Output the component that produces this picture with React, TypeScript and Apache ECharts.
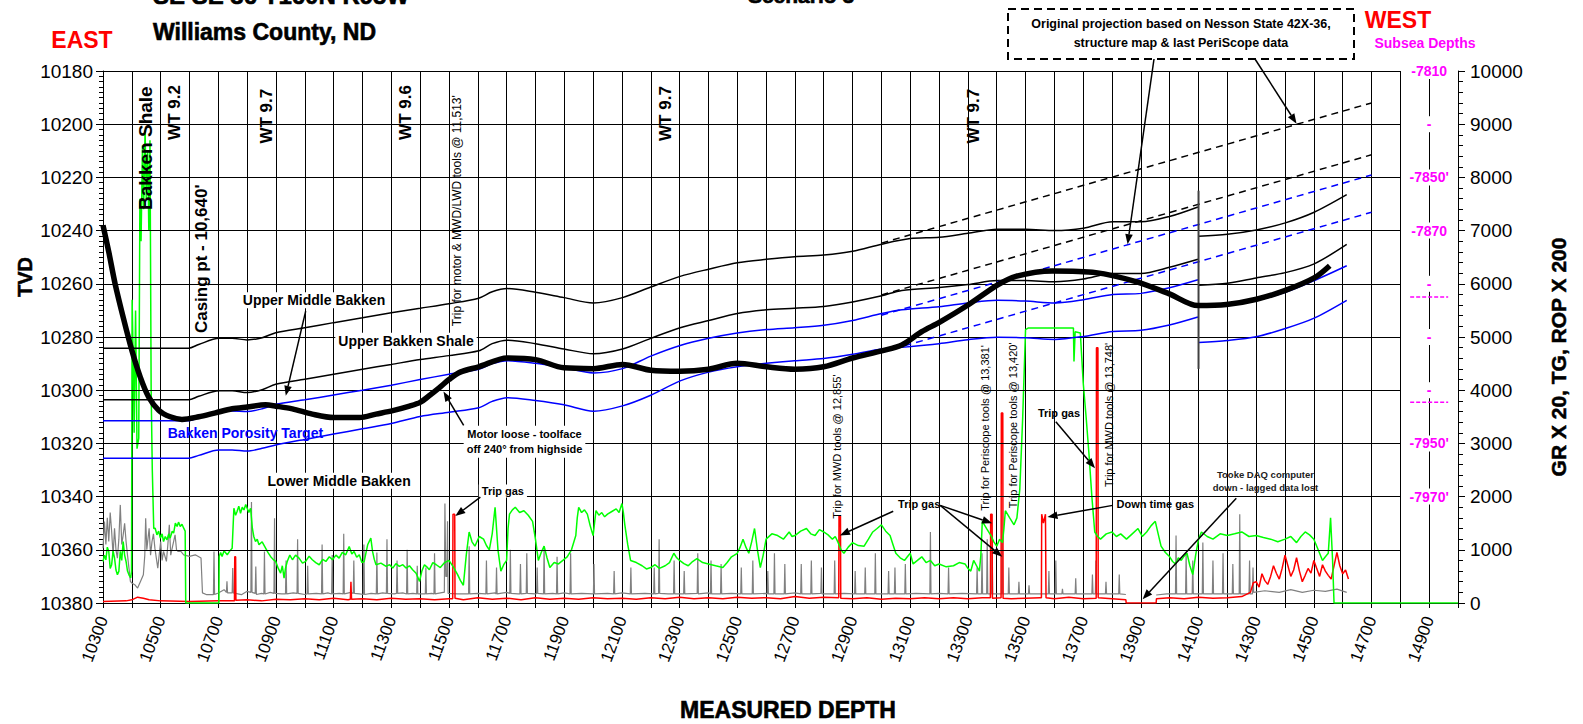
import React, { useEffect, useRef } from "react";
import * as echarts from "echarts";

// ---------- axis ticks / labels ----------
const MD_MIN = 10300;
const MD_MAX = 15000;
const TVD_MIN = 10180;
const TVD_MAX = 10380;
const TVD_TICKS = [10180, 10200, 10220, 10240, 10260, 10280, 10300, 10320, 10340, 10360, 10380];
const X_LABELS = [10300, 10500, 10700, 10900, 11100, 11300, 11500, 11700, 11900, 12100, 12300, 12500, 12700, 12900, 13100, 13300, 13500, 13700, 13900, 14100, 14300, 14500, 14700, 14900];
const SUBSEA_TVD = [10180, 10200, 10220, 10240, 10260, 10280, 10300, 10320, 10340];
const SUBSEA_LABELS = ["-7810", "-", "-7850'", "-7870", "-", "-", "-", "-7950'", "-7970'"];
const SUBSEA_HIDDEN_TVD = [10265, 10304.5];

// ---------- formation lines (TVD) ----------
const UBS_TOP_A = [[10300,10284.2],[10597,10284.2],[10632,10282.8],[10702,10280.5],[10748,10280.5],[10800,10281.1],[10852,10280.3],[10899,10278.4],[11000,10276.5],[11100,10274.6],[11200,10272.8],[11300,10270.9],[11400,10269.2],[11500,10267.5],[11603,10265.4],[11650,10263],[11702,10261.8],[11800,10263.2],[11899,10265.2],[12001,10267.2],[12102,10265.2],[12200,10261.2],[12302,10257.2],[12401,10254.5],[12500,10252.1],[12601,10250.8],[12699,10249.8],[12800,10249.2],[12900,10247.8],[13001,10245.1],[13100,10243],[13201,10242.5],[13300,10241],[13402,10239.5],[13500,10239.5],[13602,10240],[13701,10239.1],[13802,10236.7],[13900,10236.7],[13999,10234.7],[14098,10231.1]];
const UBS_TOP_B = [[14100,10242.1],[14200,10241.4],[14300,10239.8],[14401,10237.1],[14501,10233.1],[14614,10226.5]];
const UMB_TOP_A = [[10300,10303.6],[10597,10303.6],[10632,10302.3],[10702,10300.2],[10748,10300.2],[10800,10300.9],[10852,10299.8],[10899,10297.8],[11000,10295.9],[11100,10294],[11200,10292.1],[11300,10290.3],[11400,10288.5],[11500,10287],[11603,10285.2],[11650,10282.5],[11702,10281.2],[11800,10282.5],[11899,10284.5],[12001,10286.3],[12102,10284.5],[12200,10280.5],[12302,10276.5],[12401,10273.8],[12500,10271.2],[12601,10269.8],[12699,10269.2],[12800,10268.5],[12900,10266.8],[13001,10264.5],[13071,10262.5],[13201,10261.4],[13300,10260.3],[13402,10258.8],[13500,10258.8],[13602,10259.2],[13701,10258.2],[13802,10256.1],[13900,10256.1],[13999,10253.8],[14098,10250.8]];
const UMB_TOP_B = [[14100,10260.5],[14200,10259.8],[14300,10257.8],[14401,10255.8],[14501,10252.5],[14614,10245.2]];
const TARGET_TOP_A = [[10300,10311.5],[10597,10311.5],[10632,10310.3],[10702,10307.8],[10748,10307.8],[10800,10308],[10852,10307],[10899,10305.3],[11000,10303.6],[11100,10301.8],[11200,10300],[11300,10298.1],[11400,10296],[11500,10294],[11603,10292.1],[11650,10290],[11702,10288.9],[11800,10289.9],[11899,10291.6],[12001,10293.5],[12102,10291.9],[12200,10287.2],[12302,10283.2],[12401,10280.5],[12500,10278.5],[12601,10277.2],[12699,10276.5],[12800,10275.6],[12900,10273.8],[13001,10271.2],[13071,10269.8],[13200,10268.6],[13300,10267.2],[13402,10266.2],[13500,10266.5],[13602,10267.2],[13701,10266],[13802,10264],[13900,10263.6],[13999,10261.5],[14098,10258.5]];
const TARGET_TOP_B = [[14100,10268.8],[14200,10268.1],[14300,10266.2],[14401,10263.2],[14501,10258.8],[14614,10253.2]];
const TARGET_BASE_A = [[10300,10325.6],[10597,10325.6],[10632,10324.5],[10702,10322.5],[10748,10322.5],[10800,10322.9],[10852,10321.8],[10899,10320.6],[11000,10318.5],[11100,10316.5],[11200,10314.5],[11300,10312.5],[11400,10309.9],[11500,10308.3],[11603,10306.6],[11650,10304.2],[11702,10302.8],[11800,10303.9],[11899,10305.5],[12001,10307.9],[12102,10305.9],[12200,10301.9],[12302,10296.5],[12401,10293.2],[12500,10291.2],[12601,10289.9],[12699,10288.9],[12800,10288.1],[12900,10286.5],[13001,10284.5],[13071,10283.9],[13200,10282.5],[13300,10281],[13402,10280.1],[13500,10280.3],[13602,10280.9],[13701,10279.8],[13802,10277.9],[13900,10277.5],[13999,10275.5],[14098,10272.5]];
const TARGET_BASE_B = [[14100,10282.1],[14200,10281.3],[14300,10279.9],[14401,10276.8],[14501,10272.9],[14614,10266.2]];

// original projections (dashed)
const PROJ_UBS = [[13000,10244.7],[14700,10192]];
const PROJ_UMB = [[13000,10264.2],[14700,10211.5]];
const PROJ_TOP = [[13000,10271.8],[14700,10219.1]];
const PROJ_BASE = [[13000,10285.8],[14700,10233.1]];
const FAULT = [[14100,10225],[14100,10292]];

// well bore
const WELLBORE = [[10300,10238],[10320,10248],[10342,10260],[10371,10273],[10400,10285],[10429,10295],[10458,10302.5],[10493,10307.5],[10533,10310],[10574,10311],[10632,10310],[10690,10308.5],[10748,10307],[10800,10306.3],[10864,10305.5],[10900,10306],[10957,10307],[11026,10309],[11100,10310.3],[11190,10310.3],[11247,10309],[11305,10307.7],[11363,10306],[11400,10304.6],[11430,10302.2],[11467,10299],[11500,10296],[11539,10293.2],[11603,10291.2],[11702,10287.9],[11800,10288.5],[11899,10291.6],[12001,10291.9],[12102,10290.3],[12200,10292.5],[12302,10292.9],[12401,10292.1],[12500,10289.9],[12601,10291.2],[12699,10292.1],[12800,10291.2],[12900,10287.9],[13001,10285.2],[13071,10283],[13140,10278],[13201,10274.5],[13303,10267.8],[13402,10260.5],[13466,10257.2],[13593,10255.2],[13744,10255.8],[13883,10259.2],[13999,10263.8],[14098,10268.2],[14197,10267.8],[14301,10265.8],[14401,10262.5],[14501,10257.8],[14555,10253.2]];

// ---------- logs (right axis) ----------
const GR_X20 = [[10300,780],[10305,900],[10310,810],[10315,1050],[10320,970],[10325,650],[10330,720],[10335,980],[10340,845],[10345,620],[10350,530],[10355,595],[10360,970],[10365,800],[10370,1155],[10375,900],[10380,780],[10385,600],[10390,530],[10396,470],[10399,600],[10401,5700],[10405,4500],[10408,3200],[10413,5500],[10418,2900],[10424,3100],[10428,7600],[10432,6800],[10437,8600],[10441,7400],[10446,8900],[10450,7600],[10455,8500],[10459,7000],[10463,8700],[10467,4000],[10471,2500],[10476,1400],[10481,1406],[10487,1281],[10493,1350],[10499,1219],[10505,1300],[10510,1156],[10516,1250],[10522,1188],[10528,1300],[10533,1219],[10540,1350],[10545,1313],[10551,1500],[10557,1438],[10562,1520],[10568,1438],[10574,1480],[10580,1406],[10585,1350],[10587,0],[10702,0],[10703,875],[10708,950],[10713,875],[10720,980],[10731,906],[10740,980],[10748,1031],[10754,1781],[10760,1650],[10765,1719],[10771,1820],[10777,1688],[10783,1800],[10789,1750],[10795,1850],[10800,1781],[10806,1700],[10812,1781],[10818,1406],[10823,1250],[10829,1156],[10835,1200],[10841,1094],[10852,1150],[10864,1031],[10872,950],[10881,875],[10890,820],[10899,781],[10908,650],[10916,563],[10922,700],[10928,469],[10933,650],[10939,781],[10948,900],[10957,813],[10968,900],[10980,844],[10992,750],[11003,781],[11015,880],[11026,813],[11038,760],[11050,719],[11062,820],[11073,781],[11085,870],[11096,813],[11108,900],[11119,844],[11130,950],[11142,906],[11154,1063],[11163,920],[11171,969],[11180,860],[11189,906],[11198,760],[11206,781],[11218,1094],[11229,1219],[11235,969],[11241,820],[11247,719],[11264,750],[11282,688],[11294,720],[11305,656],[11316,740],[11328,688],[11340,720],[11351,656],[11363,700],[11374,625],[11386,560],[11398,406],[11406,600],[11415,719],[11423,680],[11432,625],[11444,760],[11456,719],[11470,667],[11485,760],[11500,800],[11515,680],[11530,534],[11540,420],[11550,334],[11560,900],[11570,1335],[11580,1150],[11590,1068],[11605,1250],[11620,1200],[11630,1080],[11640,1000],[11650,1300],[11660,1800],[11670,1000],[11680,600],[11690,720],[11700,800],[11705,1400],[11710,1670],[11720,1750],[11730,1800],[11745,1700],[11760,1735],[11775,1650],[11790,1535],[11800,1200],[11810,800],[11820,950],[11830,1068],[11840,850],[11850,667],[11865,760],[11880,734],[11895,800],[11910,868],[11925,1000],[11940,1268],[11945,1600],[11950,1800],[11960,1700],[11970,1750],[11980,1670],[11990,1450],[12000,1268],[12005,1500],[12010,1735],[12020,1650],[12030,1700],[12040,1620],[12050,1670],[12065,1720],[12080,1770],[12090,1700],[12100,1870],[12105,1700],[12110,1470],[12120,1100],[12130,800],[12150,760],[12170,700],[12185,640],[12200,667],[12215,720],[12230,650],[12250,700],[12265,760],[12280,935],[12290,850],[12300,800],[12315,740],[12330,700],[12345,780],[12360,835],[12380,760],[12400,734],[12425,700],[12450,667],[12465,760],[12480,868],[12490,900],[12500,935],[12510,1050],[12520,1200],[12530,1050],[12540,935],[12550,1150],[12560,1400],[12570,1000],[12580,667],[12590,900],[12600,1200],[12620,1300],[12640,1268],[12660,1200],[12680,1335],[12690,1250],[12700,1268],[12720,1350],[12740,1400],[12755,1300],[12770,1268],[12785,1380],[12800,1335],[12815,1280],[12830,1200],[12840,1250],[12850,1135],[12860,1000],[12870,935],[12885,1050],[12900,1135],[12920,1080],[12940,1068],[12955,1200],[12970,1335],[12985,1400],[13000,1470],[13015,1350],[13030,1268],[13040,1100],[13050,935],[13065,850],[13080,800],[13090,868],[13100,935],[13110,734],[13125,800],[13140,868],[13155,760],[13170,800],[13185,700],[13200,734],[13225,680],[13250,700],[13270,760],[13290,734],[13300,650],[13310,600],[13320,800],[13330,700],[13340,600],[13345,900],[13350,1535],[13365,1400],[13380,1268],[13390,1150],[13400,1068],[13410,1200],[13420,1135],[13425,1400],[13430,1735],[13445,1600],[13460,1470],[13470,1600],[13480,2136],[13490,3470],[13500,5140],[13510,5170],[13666,5170],[13668,4540],[13672,5100],[13690,5074],[13700,4140],[13710,3500],[13720,2800],[13730,2000],[13740,1335],[13750,1250],[13760,1200],[13780,1300],[13800,1335],[13815,1250],[13830,1300],[13850,1200],[13870,1300],[13890,1400],[13905,1250],[13920,1335],[13935,1450],[13950,1535],[13960,1300],[13970,1068],[13985,950],[14000,868],[14010,780],[14020,734],[14030,850],[14040,800],[14050,880],[14060,935],[14070,700],[14080,534],[14090,900],[14100,1200],[14110,1335],[14130,1250],[14150,1200],[14175,1300],[14200,1268],[14225,1300],[14250,1335],[14275,1250],[14300,1268],[14325,1230],[14350,1200],[14375,1150],[14400,1200],[14420,1250],[14440,1135],[14455,1250],[14470,1335],[14485,1280],[14500,1200],[14515,1000],[14530,800],[14540,870],[14550,935],[14558,1600],[14565,800],[14570,0],[15000,0]];

const TG = [[10300,30],[10380,40],[10400,60],[10420,110],[10440,90],[10460,60],[10500,40],[10600,30],[10700,40],[10756,40],[10757,870],[10760,870],[10761,50],[10800,60],[10850,40],[10900,70],[10950,60],[11000,80],[11050,60],[11100,90],[11150,60],[11158,70],[11160,400],[11162,70],[11200,80],[11250,60],[11300,90],[11350,70],[11400,80],[11450,60],[11500,80],[11513,80],[11514,1670],[11520,1670],[11521,90],[11550,60],[11600,100],[11650,70],[11700,90],[11750,60],[11800,100],[11850,70],[11900,90],[11950,70],[12000,100],[12050,80],[12100,90],[12150,70],[12200,100],[12250,80],[12300,110],[12350,80],[12400,100],[12450,80],[12500,110],[12550,90],[12600,100],[12650,80],[12700,120],[12750,90],[12800,110],[12852,100],[12853,1640],[12858,1640],[12859,90],[12900,80],[12950,100],[13000,70],[13050,90],[13100,80],[13150,100],[13200,80],[13250,100],[13300,80],[13350,100],[13378,100],[13379,1670],[13384,1670],[13385,90],[13415,100],[13416,3570],[13421,3570],[13422,90],[13450,80],[13500,90],[13550,100],[13555,100],[13556,1670],[13562,1500],[13569,1670],[13571,100],[13600,80],[13650,110],[13700,80],[13745,90],[13746,4800],[13751,4800],[13752,100],[13800,80],[13848,60],[13849,0],[13953,0],[13954,80],[14000,100],[14050,80],[14100,110],[14150,90],[14200,100],[14250,120],[14280,200],[14290,380],[14300,400],[14310,300],[14320,550],[14330,420],[14340,350],[14350,500],[14360,700],[14370,560],[14380,450],[14390,650],[14400,900],[14410,700],[14420,500],[14430,620],[14440,850],[14450,600],[14460,400],[14470,520],[14480,650],[14490,560],[14500,800],[14510,650],[14520,500],[14530,720],[14540,600],[14550,520],[14560,450],[14570,700],[14580,950],[14590,700],[14600,550],[14610,620],[14620,450]];

const ROP_X200 = [[10300,1030],[10305,1530],[10310,1100],[10315,1600],[10320,1156],[10325,1700],[10330,1344],[10335,900],[10340,1406],[10345,1000],[10350,844],[10355,1200],[10360,1844],[10365,1100],[10370,1281],[10375,1500],[10380,1156],[10385,900],[10390,656],[10395,406],[10400,375],[10410,344],[10420,281],[10430,406],[10440,531],[10445,900],[10448,1594],[10452,1000],[10455,1156],[10460,1406],[10465,900],[10470,1156],[10475,1300],[10480,1031],[10490,656],[10500,1156],[10505,800],[10510,969],[10520,781],[10525,1100],[10530,1469],[10535,900],[10540,1031],[10550,1281],[10555,1000],[10560,969],[10570,969],[10580,906],[10600,875],[10620,906],[10640,844],[10645,190],[10660,156],[10683,156],[10685,969],[10687,160],[10700,188],[10720,250],[10728,200],[10730,406],[10732,190],[10748,190],[10750,656],[10752,190],[10780,156],[10800,219],[10813,200],[10815,1900],[10817,200],[10828,180],[10830,688],[10832,160],[10850,180],[10858,170],[10860,969],[10862,170],[10880,200],[10893,180],[10895,1594],[10897,180],[10920,170],[10933,170],[10935,800],[10937,170],[10960,190],[10973,180],[10975,1200],[10977,180],[11000,160],[11008,170],[11010,700],[11012,170],[11040,180],[11058,170],[11060,1100],[11062,170],[11080,190],[11093,170],[11095,900],[11097,170],[11120,180],[11133,170],[11135,1300],[11137,170],[11160,200],[11168,180],[11170,800],[11172,180],[11190,170],[11203,160],[11205,1100],[11207,160],[11230,180],[11248,170],[11250,950],[11252,170],[11270,190],[11283,180],[11285,1200],[11287,180],[11310,170],[11318,180],[11320,800],[11322,180],[11340,190],[11353,170],[11355,1000],[11357,170],[11375,180],[11388,170],[11390,700],[11392,170],[11418,170],[11420,667],[11422,170],[11440,180],[11448,170],[11450,935],[11452,170],[11480,200],[11484,200],[11486,1870],[11489,500],[11493,500],[11495,1535],[11497,180],[11530,170],[11568,170],[11570,1068],[11572,170],[11600,180],[11628,170],[11630,800],[11632,170],[11660,190],[11663,170],[11665,667],[11667,170],[11700,200],[11711,180],[11713,1000],[11715,180],[11740,170],[11746,170],[11748,734],[11750,170],[11768,180],[11770,935],[11772,180],[11800,170],[11804,180],[11806,667],[11808,180],[11828,170],[11830,1068],[11832,170],[11860,180],[11873,170],[11875,868],[11877,170],[11900,190],[11920,170],[11922,935],[11924,170],[11960,180],[12001,170],[12003,734],[12005,170],[12050,180],[12071,170],[12073,600],[12075,170],[12100,190],[12129,170],[12131,667],[12133,170],[12180,180],[12210,170],[12212,667],[12214,170],[12227,180],[12229,1200],[12231,180],[12260,170],[12279,170],[12281,800],[12283,170],[12314,170],[12316,600],[12318,170],[12361,180],[12363,935],[12365,170],[12400,190],[12407,170],[12409,800],[12411,170],[12442,170],[12444,734],[12446,170],[12480,180],[12512,170],[12514,667],[12516,170],[12552,170],[12554,800],[12556,170],[12600,180],[12604,170],[12606,600],[12608,170],[12627,170],[12629,935],[12631,170],[12663,170],[12665,734],[12667,170],[12700,190],[12720,170],[12722,734],[12724,170],[12755,170],[12757,800],[12759,170],[12790,180],[12792,667],[12794,170],[12836,170],[12838,800],[12840,170],[12870,180],[12907,170],[12909,600],[12911,170],[12942,170],[12944,667],[12946,170],[12977,170],[12979,935],[12981,170],[13023,170],[13025,600],[13027,170],[13045,170],[13047,667],[13049,170],[13081,170],[13083,734],[13085,170],[13120,180],[13168,170],[13170,1335],[13172,170],[13200,180],[13231,170],[13233,667],[13235,170],[13280,180],[13330,170],[13332,667],[13334,170],[13347,170],[13349,935],[13351,170],[13365,170],[13367,1200],[13369,170],[13382,170],[13384,1068],[13386,170],[13417,170],[13419,1200],[13421,170],[13440,170],[13442,667],[13444,170],[13475,170],[13477,400],[13479,170],[13510,170],[13512,334],[13514,170],[13579,170],[13581,600],[13583,170],[13603,170],[13605,800],[13607,170],[13626,170],[13628,267],[13630,170],[13672,170],[13674,467],[13676,170],[13730,170],[13732,534],[13734,170],[13742,170],[13744,800],[13746,170],[13777,170],[13779,400],[13781,170],[13823,170],[13825,534],[13827,170],[13848,160],[13900,"-"],[13953,150],[13990,170],[14020,170],[14022,1268],[14024,170],[14055,170],[14057,935],[14059,170],[14078,170],[14080,800],[14082,170],[14113,170],[14115,1135],[14117,170],[14148,170],[14150,800],[14152,170],[14183,170],[14185,935],[14187,170],[14217,170],[14219,734],[14221,170],[14241,170],[14243,1670],[14245,170],[14275,170],[14277,800],[14279,170],[14287,170],[14289,667],[14291,200],[14330,230],[14380,200],[14420,250],[14460,200],[14500,240],[14540,220],[14580,260],[14614,200]];

const FONT = '"Liberation Sans", Arial, sans-serif';
const BLUE = "#0000FF";
const MAGENTA = "#FF00FF";

function lineSeries(name: string, data: any[], color: string, width: number, yIdx: number, z: number, extra: any = {}) {
  return {
    type: "line", name, data, yAxisIndex: yIdx, showSymbol: false, symbol: "none",
    lineStyle: { color, width }, itemStyle: { color }, silent: true, z, ...extra,
  };
}

function buildOption() {
  return {
    animation: false,
    backgroundColor: "#ffffff",
    grid: { left: 103, right: 1583 - 1458, top: 71, bottom: 724 - 603, containLabel: false },
    xAxis: {
      type: "value", min: MD_MIN, max: MD_MAX, interval: 100,
      axisLine: { show: true, onZero: false, lineStyle: { color: "#000", width: 1 } },
      axisTick: { show: true, length: 5, lineStyle: { color: "#000" } },
      axisLabel: {
        rotate: 70, margin: 14, fontSize: 17, color: "#000", fontFamily: FONT,
        formatter: (v: number) => (X_LABELS.indexOf(v) >= 0 ? String(v) : ""),
      },
      splitLine: { show: true, lineStyle: { color: "#000", width: 1 } },
    },
    yAxis: [
      {
        type: "value", inverse: true, min: TVD_MIN, max: TVD_MAX, interval: 20, position: "left",
        axisLine: { show: true, onZero: false, lineStyle: { color: "#000" } },
        axisTick: { show: true, length: 7, lineStyle: { color: "#000" } },
        minorTick: { show: true, splitNumber: 10, length: 4, lineStyle: { color: "#000" } },
        axisLabel: { fontSize: 19, color: "#000", margin: 10, fontFamily: FONT, formatter: (v: number) => String(v) },
        splitLine: { show: false },
      },
      {
        type: "value", min: 0, max: 10000, interval: 1000, position: "right",
        axisLine: { show: true, onZero: false, lineStyle: { color: "#000" } },
        axisTick: { show: true, length: 7, lineStyle: { color: "#000" } },
        minorTick: { show: true, splitNumber: 5, length: 5, lineStyle: { color: "#000" } },
        axisLabel: { fontSize: 19, color: "#000", margin: 12, fontFamily: FONT, formatter: (v: number) => String(v) },
        splitLine: { show: false },
      },
    ],
    series: [
      {
        type: "line", name: "hgrid", data: [[MD_MIN, TVD_MAX]], yAxisIndex: 0, showSymbol: false, symbol: "none",
        lineStyle: { width: 0 }, silent: true, z: 1,
        markLine: {
          silent: true, symbol: ["none", "none"], label: { show: false }, animation: false,
          lineStyle: { color: "#000", width: 1, type: "solid" },
          emphasis: { disabled: true },
          data: TVD_TICKS.filter((t) => t < TVD_MAX).map((t) => [{ coord: [MD_MIN, t] }, { coord: [14800, t] }]),
        },
      },
      lineSeries("ROP x 200", ROP_X200, "#808080", 1.2, 1, 2),
      lineSeries("TG", TG, "#FF0000", 1.5, 1, 3),
      lineSeries("GR x 20", GR_X20, "#00FF00", 1.5, 1, 4),
      lineSeries("Upper Bakken Shale top", UBS_TOP_A, "#000", 1.5, 0, 5, { smooth: 0.3 }),
      lineSeries("Upper Bakken Shale top 2", UBS_TOP_B, "#000", 1.5, 0, 5, { smooth: 0.3 }),
      lineSeries("Upper Middle Bakken top", UMB_TOP_A, "#000", 1.5, 0, 5, { smooth: 0.3 }),
      lineSeries("Upper Middle Bakken top 2", UMB_TOP_B, "#000", 1.5, 0, 5, { smooth: 0.3 }),
      lineSeries("Target top", TARGET_TOP_A, BLUE, 1.5, 0, 5, { smooth: 0.3 }),
      lineSeries("Target top 2", TARGET_TOP_B, BLUE, 1.5, 0, 5, { smooth: 0.3 }),
      lineSeries("Target base", TARGET_BASE_A, BLUE, 1.5, 0, 5, { smooth: 0.3 }),
      lineSeries("Target base 2", TARGET_BASE_B, BLUE, 1.5, 0, 5, { smooth: 0.3 }),
      lineSeries("Proj UBS", PROJ_UBS, "#000", 1.5, 0, 5, { lineStyle: { color: "#000", width: 1.5, type: [7, 5] } }),
      lineSeries("Proj UMB", PROJ_UMB, "#000", 1.5, 0, 5, { lineStyle: { color: "#000", width: 1.5, type: [7, 5] } }),
      lineSeries("Proj top", PROJ_TOP, BLUE, 1.5, 0, 5, { lineStyle: { color: BLUE, width: 1.5, type: [7, 5] } }),
      lineSeries("Proj base", PROJ_BASE, BLUE, 1.5, 0, 5, { lineStyle: { color: BLUE, width: 1.5, type: [7, 5] } }),
      lineSeries("Fault", FAULT, "#404040", 2, 0, 5),
      lineSeries("Well bore", WELLBORE, "#000", 5.5, 0, 6, { smooth: 0.3 }),
    ],
  };
}

type PFn = (md: number, tvd: number) => number[];

function txt(s: string, x: number, y: number, font: string, fill = "#000", o: any = {}) {
  return {
    type: "text", x, y, rotation: o.rot || 0, z: 100, silent: true,
    style: {
      text: s, font, fill, align: o.align || "center", verticalAlign: o.va || "middle",
      backgroundColor: o.bg, padding: o.bg ? [1, 3] : 0, lineHeight: o.lh,
      stroke: o.stroke, lineWidth: o.sw,
    },
  };
}

function arrow(x1: number, y1: number, x2: number, y2: number, color = "#000", w = 1.5, head = 10) {
  const a = Math.atan2(y2 - y1, x2 - x1);
  const hx = x2 - head * Math.cos(a);
  const hy = y2 - head * Math.sin(a);
  const px = Math.sin(a) * head * 0.38;
  const py = -Math.cos(a) * head * 0.38;
  return [
    { type: "line", z: 101, silent: true, shape: { x1, y1, x2: hx, y2: hy }, style: { stroke: color, lineWidth: w } },
    { type: "polygon", z: 101, silent: true, shape: { points: [[x2, y2], [hx + px, hy + py], [hx - px, hy - py]] }, style: { fill: color } },
  ];
}

function buildGraphics(P: PFn) {
  const g: any[] = [];
  const R = Math.PI / 2;
  const at = (md: number, tvd: number) => P(md, tvd);
  const B = (n: number) => `bold ${n}px ${FONT}`;
  const N = (n: number) => `${n}px ${FONT}`;

  // titles
  g.push(txt("SE SE 36 T160N R95W", 153, -5, B(24), "#000", { align: "left", stroke: "#000", sw: 0.6 }));
  g.push(txt("Williams County, ND", 153, 32, B(23), "#000", { align: "left", stroke: "#000", sw: 0.6 }));
  g.push(txt("Scenario 3", 801, -5, B(21), "#000", { stroke: "#000", sw: 0.6 }));
  g.push(txt("EAST", 82, 40, B(23), "#FF0000"));
  g.push(txt("WEST", 1398, 20, B(23), "#FF0000"));
  g.push(txt("Subsea Depths", 1425, 43, B(14), MAGENTA));

  // axis names
  g.push(txt("TVD", 25, 277, B(20), "#000", { rot: R, stroke: "#000", sw: 0.5 }));
  g.push(txt("GR X 20, TG, ROP X 200", 1558, 357, B(21), "#000", { rot: R, stroke: "#000", sw: 0.5 }));
  g.push(txt("MEASURED DEPTH", 788, 710, B(23), "#000", { stroke: "#000", sw: 0.6 }));

  // dashed note box
  g.push({
    type: "rect", z: 100, silent: true, shape: { x: 1008, y: 9, width: 346, height: 50 },
    style: { fill: "#fff", stroke: "#000", lineWidth: 2, lineDash: [8, 5] },
  });
  g.push(txt("Original projection based on Nesson State 42X-36,\nstructure map & last PeriScope data", 1181, 33, B(12.5), "#000", { lh: 19 }));
  {
    const t1 = at(13854, 10245.1);
    g.push(...arrow(1154, 59, t1[0], t1[1]));
    const t2 = at(14440, 10199.8);
    g.push(...arrow(1255, 59, t2[0], t2[1]));
  }

  // subsea depth labels
  SUBSEA_TVD.forEach((t, i) => {
    const p = at(14900, t);
    g.push(txt(SUBSEA_LABELS[i], p[0], p[1], B(14), MAGENTA, { bg: "#fff" }));
  });
  SUBSEA_HIDDEN_TVD.forEach((t) => {
    const p = at(14900, t);
    g.push({ type: "line", z: 100, silent: true, shape: { x1: p[0] - 19, y1: p[1], x2: p[0] + 19, y2: p[1] }, style: { stroke: MAGENTA, lineWidth: 1.5, lineDash: [4, 2] } });
  });

  // rotated in-plot labels
  const rot = (s: string, md: number, tvd: number, font: string) => {
    const p = at(md, tvd);
    g.push(txt(s, p[0], p[1], font, "#000", { rot: R }));
  };
  rot("Bakken Shale", 10449, 10209, B(19));
  rot("WT 9.2", 10548, 10195.6, B(17));
  rot("Casing pt - 10,640'", 10641, 10250.6, B(17));
  rot("WT 9.7", 10867, 10197, B(17));
  rot("WT 9.6", 11348, 10195.6, B(17));
  rot("Trip for motor & MWD/LWD tools @ 11,513'", 11528, 10232.5, N(12));
  rot("WT 9.7", 12250, 10196, B(17));
  rot("WT 9.7", 13318, 10197, B(17));
  rot("Trip for MWD tools @ 12,855'", 12847, 10321.2, N(11));
  rot("Trip for Periscope tools @ 13,381'", 13358, 10314.2, N(11));
  rot("Trip for Periscope tools @ 13,420'", 13458, 10313.2, N(11));
  rot("Trip for MWD tools @ 13,748'", 13790, 10309.3, N(11));

  // horizontal in-plot labels
  const lab = (s: string, md: number, tvd: number, font: string, fill = "#000", bg?: string, lh?: number) => {
    const p = at(md, tvd);
    g.push(txt(s, p[0], p[1], font, fill, { bg, lh }));
  };
  lab("Upper Middle Bakken", 11032, 10266.2, B(14), "#000", "#fff");
  lab("Upper Bakken Shale", 11351, 10281.4, B(14), "#000", "#fff");
  lab("Bakken Porosity Target", 10794, 10316.2, B(14), BLUE);
  lab("Lower Middle Bakken", 11119, 10334, B(14), "#000", "#fff");
  lab("Motor loose - toolface\noff 240° from highside", 11762, 10319.4, B(11), "#000", "#fff", 15);
  lab("Trip gas", 11687, 10337.9, B(11), "#000", "#fff");
  lab("Trip gas", 13131, 10342.6, B(11));
  lab("Trip gas", 13616, 10308.6, B(11));
  lab("Down time gas", 13950, 10342.6, B(11));
  lab("Tooke DAQ computer\ndown - lagged data lost", 14332, 10334.2, B(9.5), "#222", undefined, 13);

  // arrows in data space
  const arr = (a: number[], b: number[]) => {
    const p1 = at(a[0], a[1]);
    const p2 = at(b[0], b[1]);
    g.push(...arrow(p1[0], p1[1], p2[0], p2[1]));
  };
  arr([11003, 10270.3], [10934, 10302.1]);
  arr([11551, 10313.2], [11481, 10300.5]);
  arr([11609, 10340.2], [11522, 10347.3]);
  arr([13041, 10345.5], [12856, 10354.6]);
  arr([13204, 10343.3], [13384, 10350]);
  arr([13204, 10343.3], [13419, 10362.6]);
  arr([13605, 10311.9], [13741, 10329.3]);
  arr([13802, 10343.3], [13576, 10347.7]);
  arr([14231, 10340.6], [13906, 10378.6]);

  return g;
}

export default function App() {
  const ref = useRef<HTMLDivElement>(null);
  useEffect(() => {
    const el = ref.current as HTMLDivElement;
    const chart = echarts.init(el, null, { renderer: "svg" });
    chart.setOption(buildOption() as any);
    const P: PFn = (md, tvd) => chart.convertToPixel({ xAxisIndex: 0, yAxisIndex: 0 } as any, [md, tvd]) as number[];
    chart.setOption({ graphic: { elements: buildGraphics(P) } } as any);
    return () => chart.dispose();
  }, []);
  return (
    <div
      ref={ref}
      style={{ position: "absolute", left: 0, top: 0, width: 1583, height: 724, background: "#fff" }}
    />
  );
}
